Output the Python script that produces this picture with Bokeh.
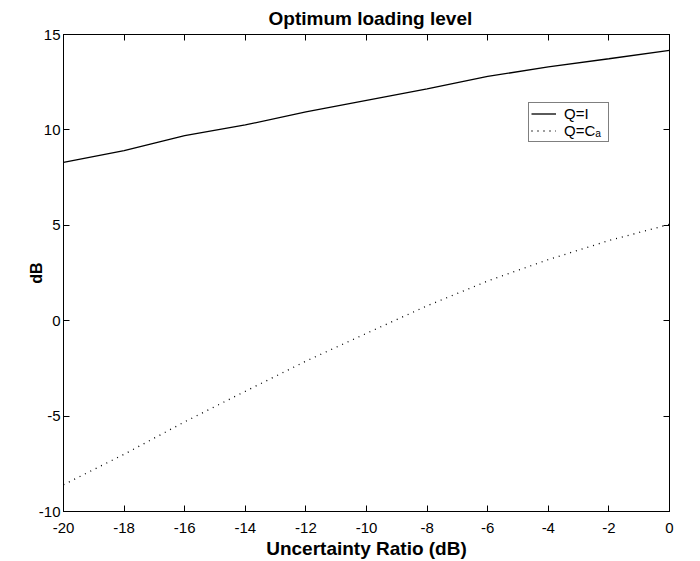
from bokeh.plotting import figure
from bokeh.models import (LinearAxis, FixedTicker, Legend, LegendItem,
                          NumeralTickFormatter, CustomLabelingPolicy)
from bokeh.embed import file_html
from bokeh.resources import INLINE

# Data
uncertainty_ratio_db = [-20, -18, -16, -14, -12, -10, -8, -6, -4, -2, 0]
q_identity = [8.30, 8.91, 9.70, 10.26, 10.95, 11.55, 12.15, 12.80, 13.30, 13.73, 14.17]
q_ca = [-8.60, -7.00, -5.30, -3.70, -2.12, -0.66, 0.78, 2.08, 3.20, 4.20, 5.05]

x_ticks = [-20, -18, -16, -14, -12, -10, -8, -6, -4, -2, 0]
y_ticks = [-10, -5, 0, 5, 10, 15]

FONT = "Liberation Sans"

p = figure(
    frame_width=606, frame_height=477,
    min_border_left=63, min_border_right=16, min_border_top=34, min_border_bottom=46,
    x_range=(-20, 0), y_range=(-10, 15),
    output_backend="svg", toolbar_location=None,
    title="Optimum loading level",
)
p.background_fill_color = "white"
p.border_fill_color = "white"
p.outline_line_color = "black"
p.outline_line_width = 1
p.grid.visible = False

p.title.align = "left"
p.title.offset = 205
p.title.text_font = FONT
p.title.text_font_size = "19px"
p.title.text_font_style = "bold"
p.title.text_color = "black"
p.title.standoff = 4

hide_all = CustomLabelingPolicy(code="""
for (const i of Array.from(indices)) indices.unset(i)
return indices
""")

def style_axis(ax, labels=True):
    ax.axis_line_color = "black"
    ax.major_tick_line_color = "black"
    ax.major_tick_in = 6
    ax.major_tick_out = 0
    ax.minor_tick_line_color = None
    ax.formatter = NumeralTickFormatter(format="0")
    ax.major_label_text_font = FONT
    ax.major_label_text_font_size = "15px" if labels else "1px"
    ax.major_label_text_color = "black"
    if not labels:
        ax.major_label_policy = hide_all
        ax.major_label_standoff = 0
    ax.axis_label_text_font = FONT
    ax.axis_label_text_font_style = "bold"
    ax.axis_label_text_color = "black"

p.xaxis.ticker = FixedTicker(ticks=x_ticks)
p.yaxis.ticker = FixedTicker(ticks=y_ticks)
style_axis(p.xaxis[0])
style_axis(p.yaxis[0])
p.xaxis.axis_label = "Uncertainty Ratio (dB)"
p.yaxis.axis_label = "dB"
p.xaxis.axis_label_text_font_size = "19px"
p.yaxis.axis_label_text_font_size = "16px"
p.xaxis.major_label_standoff = 11
p.yaxis.major_label_standoff = 3
p.xaxis.axis_label_standoff = 2
p.yaxis.axis_label_standoff = -9

top_axis = LinearAxis(ticker=FixedTicker(ticks=x_ticks))
right_axis = LinearAxis(ticker=FixedTicker(ticks=y_ticks))
style_axis(top_axis, labels=False)
style_axis(right_axis, labels=False)
p.add_layout(top_axis, "above")
p.add_layout(right_axis, "right")

r1 = p.line(uncertainty_ratio_db, q_identity, line_color="black", line_width=1.3)
r2 = p.line(uncertainty_ratio_db, q_ca, line_color="black", line_width=1.3, line_dash="1 5")

legend = Legend(
    items=[LegendItem(label="Q=I", renderers=[r1]), LegendItem(label="Q=Cₐ", renderers=[r2])],
    location=(465, 369),
    border_line_color="black", border_line_width=1,
    background_fill_color="white", background_fill_alpha=1,
    label_text_font=FONT, label_text_font_size="15px", label_text_color="black",
    glyph_width=25, glyph_height=13, label_height=13, label_width=42,
    spacing=0, padding=2, margin=0, label_standoff=8,
)
p.add_layout(legend)

open("out.html", "w").write(file_html(p, INLINE))
